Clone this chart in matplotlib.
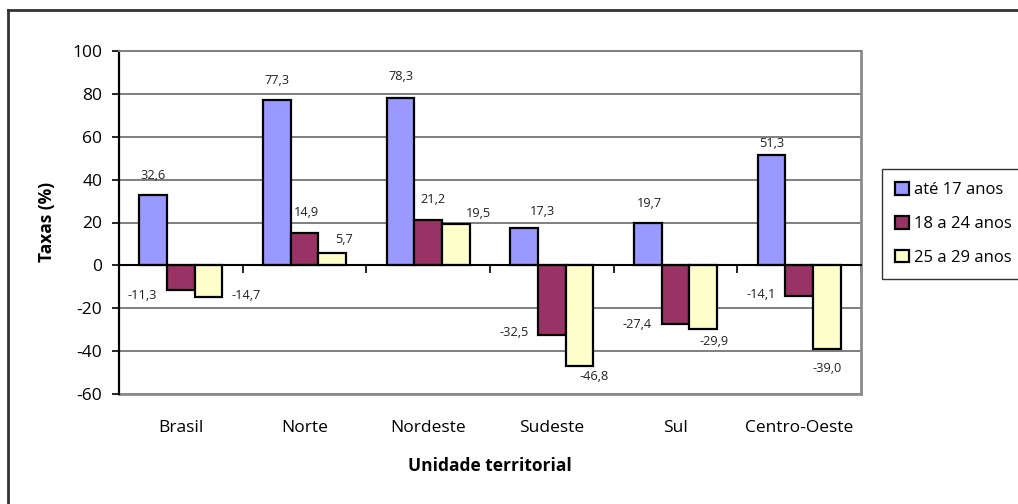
import numpy as np
import matplotlib.pyplot as plt
from matplotlib.patches import Patch
from matplotlib.lines import Line2D

plt.rcParams['font.family'] = ['Open Sans', 'DejaVu Sans']
plt.rcParams['axes.unicode_minus'] = False

regioes = ['Brasil', 'Norte', 'Nordeste', 'Sudeste', 'Sul', 'Centro-Oeste']
faixas = ['até 17 anos', '18 a 24 anos', '25 a 29 anos']
ate17 = [32.6, 77.3, 78.3, 17.3, 19.7, 51.3]
de18a24 = [-11.3, 14.9, 21.2, -32.5, -27.4, -14.1]
de25a29 = [-14.7, 5.7, 19.5, -46.8, -29.9, -39.0]
cores = ['#9999FF', '#993366', '#FFFFCC']

# deslocamento dos rótulos (px, y para baixo) a partir da ponta de cada barra
desl_ate17 = [(0, -19.5), (0, -19.3), (0, -20.6), (18, -16.6), (1, -19.4), (0, -11.7)]
desl_18a24 = [(-38.4, 6), (2.3, -20.6), (5, -20), (-37.7, -2.3), (-38.3, 0.7), (-38.3, -1)]
desl_25a29 = [(38, -1.7), (11.5, -13.7), (23, -10), (14.7, 11), (11.3, 12), (0.3, 19.3)]

W, H = 1018, 504
fig = plt.figure(figsize=(W / 100, H / 100), dpi=100)
ax = fig.add_axes([119 / W, 1 - 394 / H, (861 - 119) / W, (394 - 51) / H])

x = np.arange(len(regioes))
larg = 0.223
series = [ate17, de18a24, de25a29]
desl = [desl_ate17, desl_18a24, desl_25a29]
for i, (vals, cor, d) in enumerate(zip(series, cores, desl)):
    pos = x + (i - 1) * larg
    ax.bar(pos, vals, larg, color=cor, edgecolor='black', linewidth=1.6, zorder=3)
    for xp, v, (dx, dy) in zip(pos, vals, d):
        ax.annotate(f'{v:.1f}'.replace('.', ','), xy=(xp, v), xytext=(dx, -dy),
                    textcoords='offset pixels', ha='center', va='center',
                    fontsize=9.2, color='#222222', zorder=4)

ax.set_xlim(-0.5, len(regioes) - 0.5)
ax.set_ylim(-60, 100)
ax.set_yticks(np.arange(-60, 101, 20))
ax.tick_params(axis='y', direction='out', length=5, width=1.2, pad=7, labelsize=12.5,
               colors='black')
ax.yaxis.grid(True, color='#7f7f7f', linewidth=1.4, zorder=0)

# eixo das categorias cruzando em zero, marcas entre os grupos
ax.spines['bottom'].set_position(('data', 0))
ax.spines['bottom'].set_linewidth(1.5)
ax.spines['bottom'].set_zorder(5)
ax.set_xticks(np.arange(-0.5, len(regioes), 1.0))
ax.set_xticklabels([])
ax.tick_params(axis='x', direction='out', length=6, width=1.2)
ax.spines['left'].set_linewidth(1.6)
ax.spines['right'].set_color('#8c8c8c')
ax.spines['right'].set_linewidth(2)
ax.spines['top'].set_color('#7f7f7f')
ax.spines['top'].set_linewidth(1.4)
ax.add_line(Line2D([0, 1], [0, 0], transform=ax.transAxes, color='#8c8c8c',
                   linewidth=2, clip_on=False))

for xi, nome in zip(x, regioes):
    ax.text(xi, (428 - 394) / -(394 - 51), nome, transform=ax.get_xaxis_transform(),
            ha='center', va='center', fontsize=12.5)

fig.text(47 / W, 1 - 222 / H, 'Taxas (%)', rotation=90, ha='center', va='center',
         fontsize=12.5, fontweight='bold')
fig.text(490 / W, 1 - 466 / H, 'Unidade territorial', ha='center', va='center',
         fontsize=12.5, fontweight='bold')

# moldura externa
fig.add_artist(Line2D([8 / W, 8 / W], [0, 1 - 10 / H], transform=fig.transFigure,
                      color='#333333', linewidth=2))
fig.add_artist(Line2D([8 / W, 1], [1 - 10 / H, 1 - 10 / H], transform=fig.transFigure,
                      color='#333333', linewidth=2))

handles = [Patch(facecolor=c, edgecolor='black', linewidth=1.6) for c in cores]
leg = fig.legend(handles, faixas, loc='upper left', mode='expand',
                 bbox_to_anchor=(882 / W, 1 - 169 / H, 150 / W, 0),
                 bbox_transform=fig.transFigure,
                 fontsize=12, handlelength=0.8, handleheight=0.8, handletextpad=0.3,
                 labelspacing=1.05, borderpad=0.8, borderaxespad=0, fancybox=False)
leg.get_frame().set_edgecolor('black')
leg.get_frame().set_linewidth(1.0)

fig.savefig('out.png', dpi=100)
